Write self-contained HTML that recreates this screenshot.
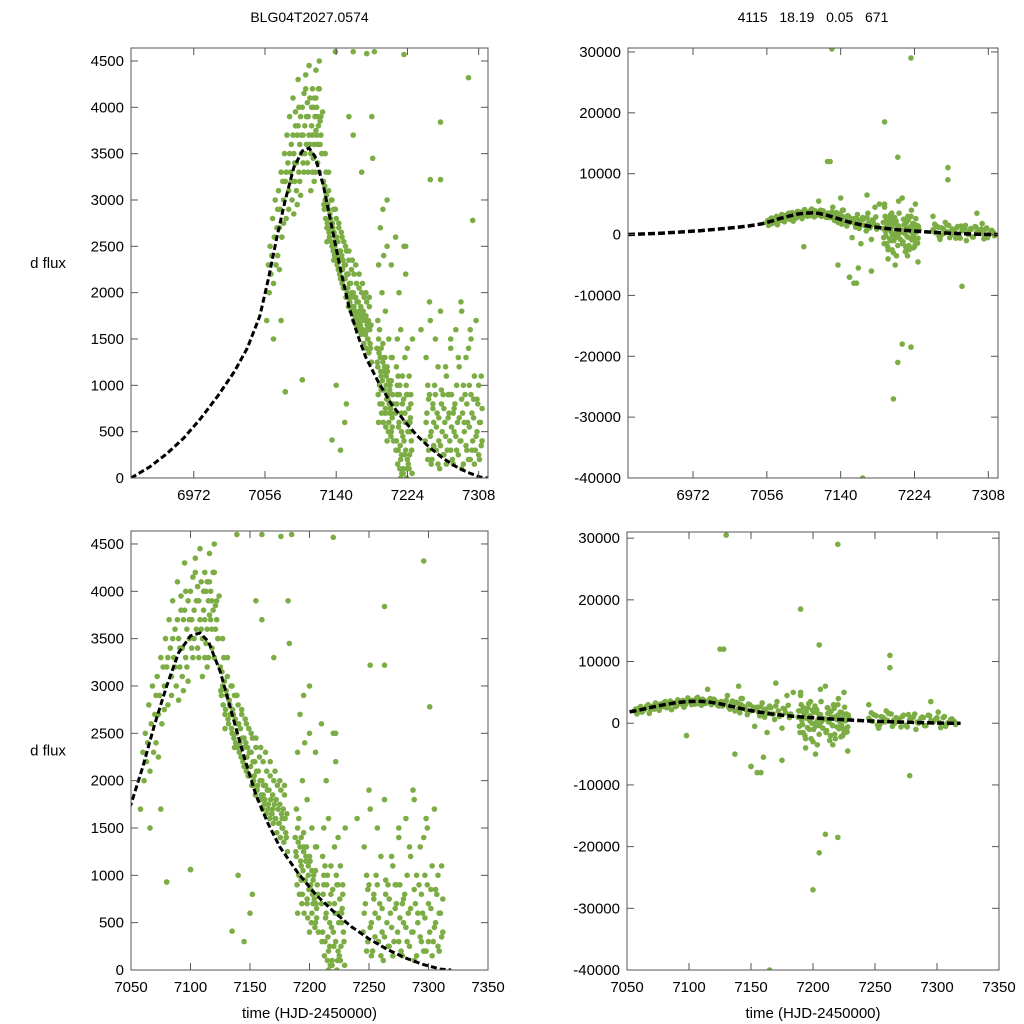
<!DOCTYPE html>
<html><head><meta charset="utf-8">
<style>
html,body{margin:0;padding:0;background:#fff;}
svg{display:block;font-family:"Liberation Sans",sans-serif;}
text{white-space:pre;}
</style></head>
<body>
<svg id="chart" width="1024" height="1024" viewBox="0 0 1024 1024"></svg>
<script>
// ---- data ----
const lcTimeA=[7058,7060,7062,7063,7065,7066,7066,7067,7068,7070,7071,7072,7073,7074,7075,7075,7076,7078,7079,7080,7080,7081,7082,7083,7084,7085,7086,7087,7088,7089,7090,7091,7092,7093,7094,7095,7096,7097,7098,7099,7100,7100,7101,7102,7103,7104,7105,7106,7107,7108,7109,7110,7111,7112,7113,7114,7115,7116,7117,7118,7119,7120,7121,7122,7123,7104,7108,7112,7116,7118,7120,7110,7114,7098,7094,7090,
7125,7126,7127,7128,7129,7130,7131,7132,7133,7134,7135,7136,7137,7138,7139,7140,7141,7142,7143,7144,7145,7146,7147,7148,7149,7150,7151,7152,7153,7154,7155,7156,7157,7158,7159,7160,7161,7162,7163,7164,7165,7166,7167,7168,7169,7170,7171,7172,7173,7174,7175,7176,7177,7178,7179,7180,7181,7127,7131,7135,7139,7143,7147,7151,7155,7159,7163,7167,7171,7175,7179,7129,7137,7145,7153,7161,7169,7177,
7188,7189,7190,7191,7192,7193,7194,7195,7196,7197,7198,7199,7200,7201,7202,7203,7204,7205,7206,7207,7189,7191,7193,7195,7197,7199,7201,7203,7205,7190,7194,7198,7202,7206,7192,7196,7200,
7210,7211,7212,7213,7214,7215,7216,7217,7218,7219,7220,7221,7222,7223,7224,7225,7226,7227,7228,7229,7211,7213,7215,7217,7219,7221,7223,7225,7227,7212,7216,7220,7224,7228,7214,7222,
7245,7247,7249,7250,7252,7253,7255,7256,7258,7259,7261,7262,7264,7265,7267,7268,7270,7271,7273,7274,7276,7277,7279,7280,7282,7283,7285,7286,7288,7289,7291,7292,7294,7295,7297,7298,7300,7301,7303,7304,7306,7307,7309,7310,7312,7246,7251,7257,7263,7269,7275,7281,7287,7293,7299,7305,7311,7248,7260,7272,7284,7296,7308,7254,7266,7278,7290,7302,
7080,7100,7135,7145,7150,7152,7140,7139,7160,7176,7185,7220,7296,7263,7251,7263,7301,7182,7183,7160,7170,7155,7195,7200,7205,7210,7222,7230,7240,7288,7298,7250,7275];
const lcFluxA=[1700,2300,2500,2200,2800,1500,2100,2600,3000,2700,2400,3100,2250,2900,3300,1700,2600,3000,3500,3200,930,2800,3700,3400,3100,3900,3300,3600,3000,4100,3500,3200,3800,3400,3700,4300,3300,3600,3900,3500,4000,1060,3700,3300,3800,4200,3600,3400,3900,3700,4100,3500,3800,3300,4000,3600,3900,4400,3700,3400,3800,4500,3600,3900,3500,4350,4450,4200,4100,3900,4200,3100,3200,3050,2950,2850,
3200,2900,3000,3300,2700,2950,3100,2600,2800,3000,2500,2700,2900,2400,2600,2800,2300,2550,2700,2200,2450,2650,2100,2350,2550,2050,2300,2450,1950,2200,2350,1900,2100,2250,1800,2000,2200,1750,1950,2100,1700,1900,2050,1650,1850,2000,1600,1800,1950,1550,1750,1900,1500,1700,1850,1450,1650,3500,3300,3000,2900,2750,2600,2500,2450,2350,2300,2200,2100,2000,1950,2550,2350,2150,2000,1850,1700,1600,
1400,1200,1500,1000,1300,1100,800,1250,950,1150,700,1000,1200,850,600,950,750,1050,650,800,1700,1600,1400,1300,1200,1100,900,700,500,2300,2000,1800,1500,1300,2700,2400,3000,
700,400,900,300,600,1000,200,500,800,100,400,700,300,900,200,600,100,500,800,300,1200,1100,100,250,50,1300,0,150,600,1500,1600,2500,1400,900,2000,2200,
400,700,300,900,500,200,600,1000,300,700,400,100,800,500,250,600,1100,300,700,400,900,200,500,800,300,600,1200,400,100,700,500,900,300,600,1000,200,700,400,1100,300,500,800,200,600,400,1300,1700,1500,1800,1200,1400,1600,1900,1300,1500,1700,1100,1000,1200,900,1300,1400,1000,800,900,700,1000,850,
930,1060,410,300,600,800,1000,4600,4600,4580,4600,4570,4320,3840,3220,3220,2780,3900,3450,3700,3300,3900,2900,2500,2300,2600,2500,1500,1600,1800,1600,1900,1500];
const lcTimeB=[7061,7064,7069,7071,7073,7077,7078,7081,7084,7085,7087,7089,7091,7093,7095,7097,7099,7101,7103,7105,7107,7109,7111,7112,7113,7114,7115,7116,7117,7118,7119,7120,7121,7122,7123,7124,7106,7102,7096,7092,
7125.5,7126.5,7127.5,7128.5,7129.5,7130.5,7131.5,7132.5,7133.5,7134.5,7135.5,7136.5,7137.5,7138.5,7139.5,7140.5,7141.5,7142.5,7143.5,7144.5,7145.5,7146.5,7147.5,7148.5,7149.5,7150.5,7151.5,7152.5,7153.5,7154.5,7155.5,7156.5,7157.5,7158.5,7159.5,7160.5,7161.5,7162.5,7163.5,7164.5,7165.5,7166.5,7167.5,7168.5,7169.5,7170.5,7171.5,7172.5,7173.5,7174.5,7175.5,7176.5,7177.5,7178.5,7179.5,7180.5,7181.5,
7188.5,7189.5,7190.5,7191.5,7192.5,7193.5,7194.5,7195.5,7196.5,7197.5,7198.5,7199.5,7200.5,7201.5,7202.5,7203.5,7204.5,7205.5,7206.5,7207.5,7190,7195,7200,7205,7193,7198,7202,7206,
7210.5,7211.5,7212.5,7213.5,7214.5,7215.5,7216.5,7217.5,7218.5,7219.5,7220.5,7221.5,7222.5,7223.5,7224.5,7225.5,7226.5,7227.5,7228.5,7229.5,7212,7218,7224,7226,7216,
7246,7248,7249,7251,7252,7254,7255,7257,7258,7260,7261,7263,7264,7266,7267,7269,7270,7272,7273,7275,7276,7278,7279,7281,7282,7284,7285,7287,7288,7290,7291,7293,7294,7296,7297,7299,7300,7302,7303,7305,7306,7308,7309,7311,7312];
const lcFluxB=[2000,2400,2300,2900,2700,3200,2750,3300,2900,3500,3200,3700,3400,3100,3800,3200,3700,3400,3500,3900,3300,3600,4000,3700,3450,4100,3300,3750,4000,3600,4200,3300,3850,3700,3500,3950,4050,4150,4000,3950,
2950,3150,2800,3050,2750,2900,2650,2850,2700,2550,2750,2450,2650,2500,2350,2600,2400,2250,2450,2350,2150,2400,2250,2050,2300,2150,1950,2200,2050,1850,2100,1950,1800,2000,1850,1700,1950,1800,1650,1900,1750,1600,1800,1650,1550,1750,1600,1450,1700,1550,1400,1650,1500,1350,1600,1400,1250,
1250,900,1350,800,1150,700,1050,600,950,1300,550,850,1150,500,800,1000,450,700,900,400,600,1450,400,1300,950,750,1050,550,
300,800,150,550,900,350,700,50,450,850,250,600,1000,100,500,750,250,650,400,50,1000,1100,900,1100,0,
600,200,850,450,150,750,350,900,550,150,650,350,950,250,750,450,150,650,900,300,550,150,750,450,1000,250,650,400,850,150,600,350,800,200,550,900,300,650,150,450,850,250,600,350,750];
const lcTime=lcTimeA.concat(lcTimeB);
const lcFlux=lcFluxA.concat(lcFluxB);
// second (right) panels
const rsTimeA=[7056,7058,7060,7062,7064,7066,7068,7070,7072,7074,7076,7078,7080,7082,7084,7086,7088,7090,7092,7094,7096,7098,7100,7102,7104,7106,7108,7110,7112,7114,7116,7118,7120,7122,7124,7126,7128,7130,7132,7134,7136,7138,7140,7142,7144,7146,7148,7150,7152,7154,7156,7158,7160,7162,7164,7166,7168,7170,7172,7174,7176,7178,7180,7182,
7188,7189,7190,7191,7192,7193,7194,7195,7196,7197,7198,7199,7200,7201,7202,7203,7204,7205,7206,7207,7208,7210,7211,7212,7213,7214,7215,7216,7217,7218,7219,7220,7221,7222,7223,7224,7225,7226,7227,7228,7229,7190,7194,7198,7202,7206,7212,7216,7220,7224,7228,
7245,7248,7251,7254,7257,7260,7263,7266,7269,7272,7275,7278,7281,7284,7287,7290,7293,7296,7299,7302,7305,7308,7311,7314,7247,7253,7259,7265,7271,7277,7283,7289,7295,7301,7307,7313,
7130,7165,7190,7205,7220,7200,7205,7210,7220,7150,7155,7160,7175,7125,7128,7140,7142,7170,7184,7190,7210,7225,7245,7262,7262,7295,7278,7115,7098,7137,7150,7158];
const rsFluxA=[2000,1500,2500,1800,2200,2800,1600,2600,2300,3000,2100,2700,3400,2500,3000,2200,3300,2800,3600,3100,2600,3500,3800,3000,3400,4000,3200,2900,3700,3300,3600,3000,3900,3400,2800,3500,3100,3700,2600,3200,2900,3400,2400,3000,2700,2200,3100,2000,2600,2300,1800,2700,1900,2300,1600,2500,1500,2800,2000,1300,2400,1700,2900,1500,
1000,-500,2000,500,-1500,1500,-2500,800,2500,-1000,1200,0,-3000,1800,-500,2200,600,-1800,1400,300,-800,700,-1200,1600,200,-2000,1000,-400,2400,-2500,600,1300,-900,1800,-300,900,-1600,400,1500,-600,800,4500,-4000,3500,-5000,5500,2500,-3500,3000,-2000,-4500,
800,300,1200,-200,900,500,1500,0,700,1100,-300,600,1000,200,800,-400,1300,400,700,100,900,-100,600,300,1700,-800,2000,500,-600,1400,-1000,900,400,1800,-500,200,
30500,-40000,18500,12700,29000,-27000,-21000,-18000,-18500,-7000,-8000,-5500,-6000,12000,12000,6000,4000,6500,5000,5000,6000,5000,3000,11000,9000,3500,-8500,5500,-2000,-5000,-7000,-8000];
const rsTimeB=[7057,7059,7061,7063,7065,7067,7069,7071,7073,7075,7077,7079,7081,7083,7085,7087,7089,7091,7093,7095,7097,7099,7101,7103,7105,7107,7109,7111,7113,7115,7117,7119,7121,7123,7125,7127,7129,7131,7133,7135,7137,7139,7141,7143,7145,7147,7149,7151,7153,7155,7157,7159,7161,7163,7165,7167,7169,7171,7173,7175,7177,7179,7181,
7188.5,7189.5,7190.5,7191.5,7192.5,7193.5,7194.5,7195.5,7196.5,7197.5,7198.5,7199.5,7200.5,7201.5,7202.5,7203.5,7204.5,7205.5,7206.5,7207.5,7210.5,7211.5,7212.5,7213.5,7214.5,7215.5,7216.5,7217.5,7218.5,7219.5,7220.5,7221.5,7222.5,7223.5,7224.5,7225.5,7226.5,7227.5,7228.5,
7246,7249,7252,7255,7258,7261,7264,7267,7270,7273,7276,7279,7282,7285,7288,7291,7294,7297,7300,7303,7306,7309,7312,7315];
const rsFluxB=[2300,1800,2700,2000,2400,3000,2200,2800,3300,2500,3100,2700,3500,2900,3600,3200,2700,3800,3300,3700,3000,4100,3400,3700,3100,4200,3500,3900,3200,3600,4000,3300,3700,2900,3400,2800,3200,4500,2300,3600,2000,3300,1700,4000,2500,1400,3000,2100,-500,2600,1200,3300,1000,-1500,2800,1500,600,3500,1100,-800,2300,4500,900,
2000,-1500,3000,-200,2500,-2000,1800,-700,3200,400,-2500,2100,-1000,2800,100,-3500,1500,-400,3500,800,-1500,2500,200,-2800,1900,-300,3000,-1800,1100,-600,4000,300,-2200,1700,-900,2600,500,-1400,1300,
500,1400,-300,1100,200,1600,-500,900,300,1300,-600,800,1500,0,1000,-400,1200,200,900,-700,1100,100,700,-200];
const rsTime=rsTimeA.concat(rsTimeB);
const rsFlux=rsFluxA.concat(rsFluxB);
// model curve
const mdTime=[6898,6920,6940,6960,6980,7000,7020,7035,7050,7060,7070,7080,7090,7100,7108,7115,7125,7135,7145,7155,7165,7175,7190,7205,7220,7235,7250,7265,7280,7295,7310,7319];
const mdFlux=[0,120,260,430,640,880,1150,1400,1750,2150,2600,3000,3350,3530,3560,3470,3150,2700,2250,1850,1550,1300,1030,800,620,460,330,220,130,60,10,0];
const ticksLeftY=[0,500,1000,1500,2000,2500,3000,3500,4000,4500];
const ticksRightY=[-40000,-30000,-20000,-10000,0,10000,20000,30000];
const ticksTopX=[6972,7056,7140,7224,7308];
const ticksBotX=[7050,7100,7150,7200,7250,7300,7350];

const NS='http://www.w3.org/2000/svg';
const svg=document.getElementById('chart');
function mk(tag,attrs,parent){const e=document.createElementNS(NS,tag);for(const k in attrs)e.setAttribute(k,attrs[k]);(parent||svg).appendChild(e);return e;}

function panel(name,box,xd,yd,xt,yt,T,F,dash,dw,xlabel,ylabel,title){
  const g=mk('g',{});
  
  
  const sx=v=>box.x0+(v-xd[0])/(xd[1]-xd[0])*(box.x1-box.x0);
  const sy=v=>box.y1-(v-yd[0])/(yd[1]-yd[0])*(box.y1-box.y0);
  const clip='c'+name;
  const cp=mk('clipPath',{id:clip},g);mk('rect',{x:box.x0,y:box.y0,width:box.x1-box.x0,height:box.y1-box.y0},cp);
  const pts=mk('g',{'clip-path':'url(#'+clip+')',fill:'#7cad45'},g);
  
  
  for(let i=0;i<T.length;i++){
    if(F[i]===undefined)continue;
    const c=mk('circle',{cx:sx(T[i]).toFixed(1),cy:sy(F[i]).toFixed(1),r:2.8},pts);
    
    
  }
  let d='';
  for(let i=0;i<mdTime.length;i++){ if(mdTime[i]<xd[0]-30)continue; d+=(d?'L':'M')+sx(mdTime[i]).toFixed(1)+','+sy(mdFlux[i]).toFixed(1);}
  const ln=mk('path',{d:d,fill:'none',stroke:'#000','stroke-width':dw,'stroke-dasharray':dash,'clip-path':'url(#'+clip+')'},g);
  
  
  const fr=mk('rect',{x:box.x0,y:box.y0,width:box.x1-box.x0,height:box.y1-box.y0,fill:'none',stroke:'#555','stroke-width':1},g);
  
  
  for(const v of yt){const y=sy(v);
    mk('line',{x1:box.x0,x2:box.x0+7,y1:y,y2:y,stroke:'#555'},g);
    mk('line',{x1:box.x1,x2:box.x1-7,y1:y,y2:y,stroke:'#555'},g);
    const t=mk('text',{x:box.x0-7,y:y+5,'text-anchor':'end','font-size':15,fill:'#000'},g);t.textContent=v;
    
    
  }
  for(const v of xt){const x=sx(v);
    if(x>box.x0+1&&x<box.x1-1){mk('line',{x1:x,x2:x,y1:box.y1,y2:box.y1-7,stroke:'#555'},g);
    mk('line',{x1:x,x2:x,y1:box.y0,y2:box.y0+7,stroke:'#555'},g);}
    const t=mk('text',{x:x,y:box.y1+22,'text-anchor':'middle','font-size':15,fill:'#000'},g);t.textContent=v;
    
    
  }
  if(xlabel){const t=mk('text',{x:(box.x0+box.x1)/2,y:1018,'text-anchor':'middle','font-size':15},g);t.textContent=xlabel;
    
    }
  if(ylabel){const t=mk('text',{x:48,y:(box.y0+box.y1)/2+5,'text-anchor':'middle','font-size':15},g);t.textContent=ylabel;
    
    }
  if(title){const t=mk('text',{x:(box.x0+box.x1)/2,y:22,'text-anchor':'middle','font-size':14},g);t.textContent=title;
    
    }
}
panel('top-left-panel',{x0:131,x1:488,y0:48,y1:478},[6898,7319],[0,4640],ticksTopX,ticksLeftY,lcTime,lcFlux,'6,3',3,null,'d flux','BLG04T2027.0574');
panel('bottom-left-panel',{x0:131,x1:488,y0:531,y1:970},[7050,7350],[0,4637],ticksBotX,ticksLeftY,lcTime,lcFlux,'6,3',3,'time (HJD-2450000)','d flux',null);
panel('top-right-panel',{x0:628,x1:998,y0:48,y1:478},[6898,7319],[-40000,30650],ticksTopX,ticksRightY,rsTime,rsFlux,'7,3',3.5,null,null,'4115   18.19   0.05   671');
panel('bottom-right-panel',{x0:627,x1:999,y0:532,y1:970},[7050,7350],[-40000,31000],ticksBotX,ticksRightY,rsTime,rsFlux,'7,3',3.5,'time (HJD-2450000)',null,null);
</script>
</body></html>
